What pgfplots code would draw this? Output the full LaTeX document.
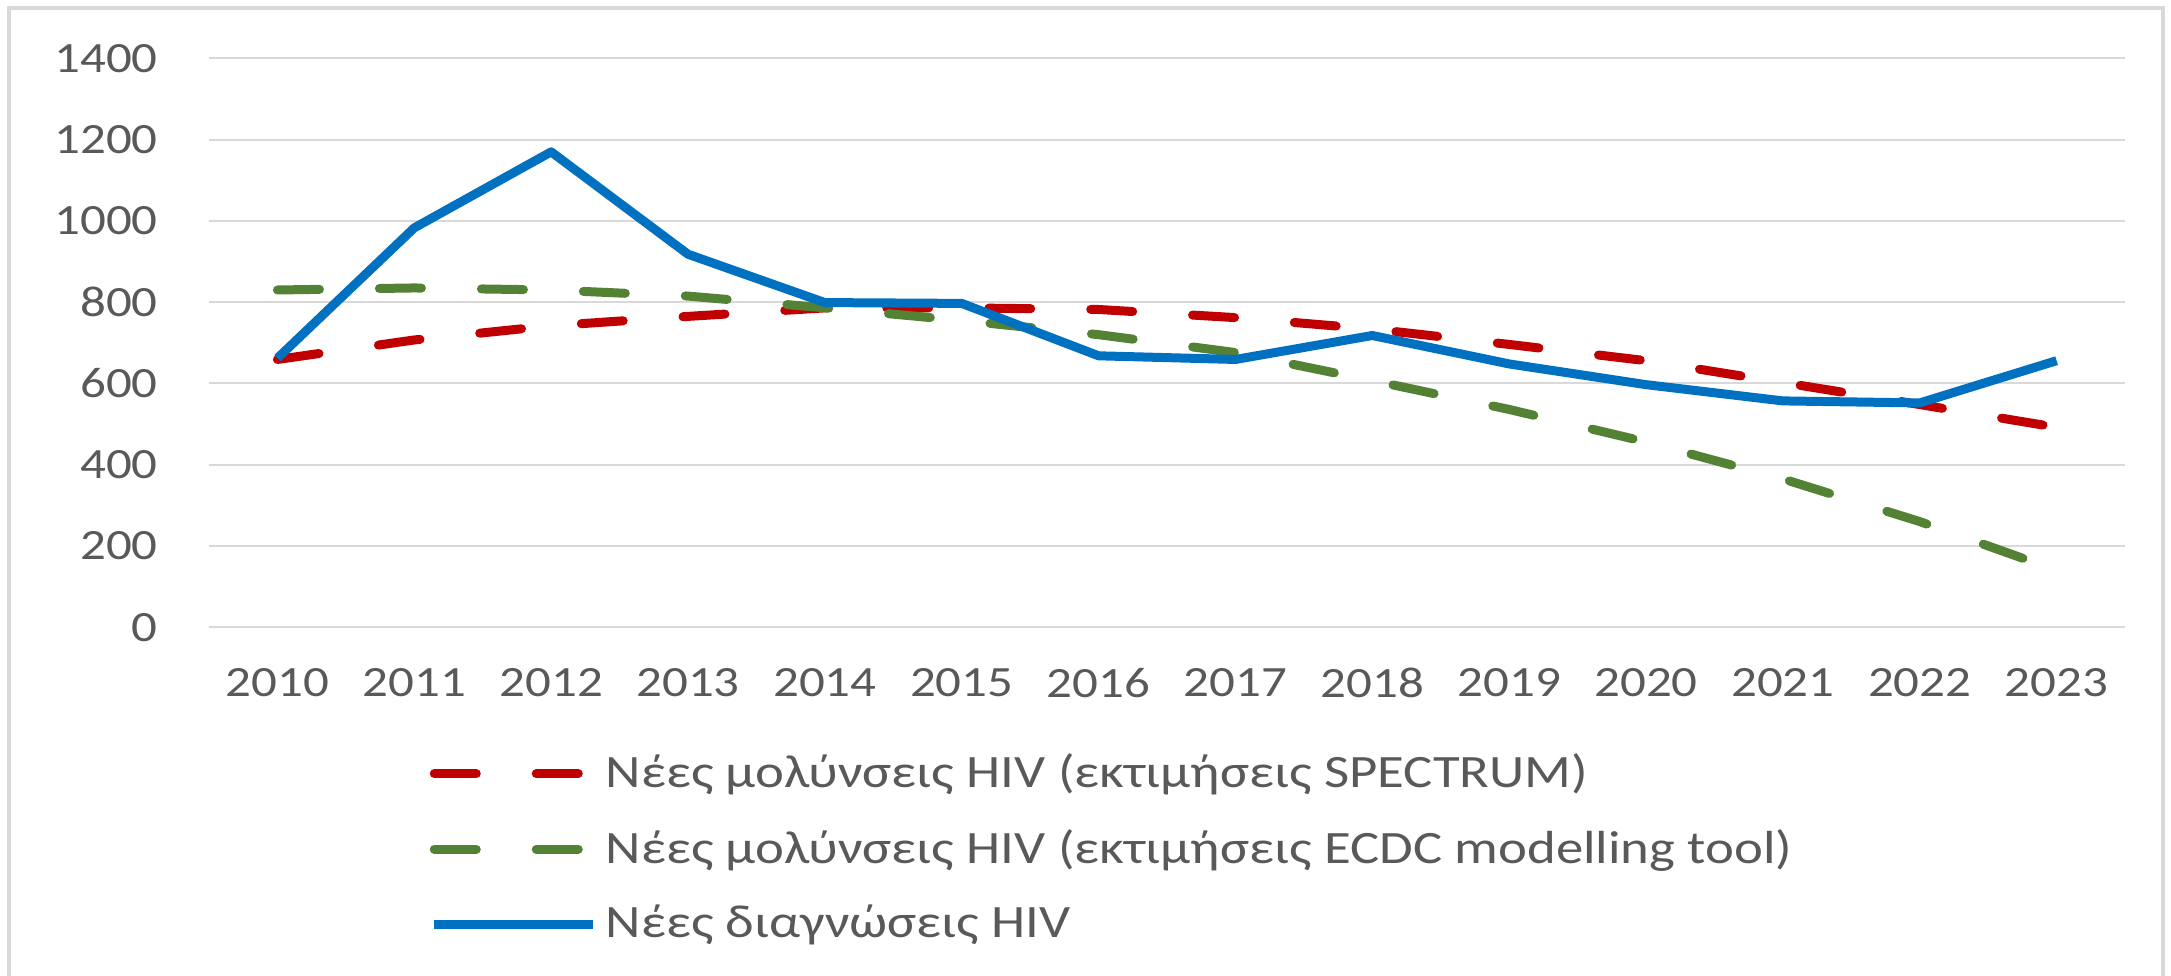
\documentclass[border=0pt]{standalone}
\usepackage{fontspec}
\setmainfont{Carlito}[FakeStretch=1.18]
\usepackage{pgfplots}
\pgfplotsset{compat=1.18}
\definecolor{cred}{HTML}{C00000}
\definecolor{cgreen}{HTML}{548235}
\definecolor{cblue}{HTML}{0070C0}
\definecolor{gridgray}{HTML}{D9D9D9}
\definecolor{txtgray}{HTML}{595959}
\begin{document}
\begin{tikzpicture}[x=1pt,y=1pt]
\useasboundingbox (0,0) rectangle (542.75,243.75);
\draw[color=gridgray, line width=0.9pt] (2.25,-5) -- (2.25,241.75) -- (540.75,241.75) -- (540.75,-5);
\begin{axis}[
  at={(52.25pt,86.95pt)}, anchor=south west,
  scale only axis, width=479pt, height=142.2pt,
  xmin=-0.5, xmax=13.5, ymin=0, ymax=1400,
  xtick={0,...,13},
  xticklabels={2010,2011,2012,2013,2014,2015,2016,2017,2018,2019,2020,2021,2022,2023},
  ytick={0,200,...,1400},
  axis line style={draw=none},
  major tick style={draw=none},
  ymajorgrids, grid style={gridgray, line width=0.5pt},
  /pgf/number format/assume math mode=true,
  /pgf/number format/1000 sep={},
  tick label style={font=\fontsize{10.8}{12}\selectfont, text=txtgray},
  yticklabel style={anchor=east, inner sep=0pt, xshift=-12.6pt},
  xticklabel style={anchor=north, inner sep=0pt, yshift=-10pt},
  legend image code/.code={\draw[#1] (0pt,0pt) -- (39.75pt,0pt);},
  legend style={at={(0.1148,-0.221)}, anchor=north west, draw=none, fill=none,
    inner sep=0pt, row sep=8.9pt,
    font=\fontsize{11.6}{13}\selectfont, text=txtgray,
    nodes={inner xsep=2pt, inner ysep=0pt}},
  legend cell align=left,
]
\addplot[cred, line width=2.25pt, line cap=round, dash pattern=on 10.5pt off 15pt] coordinates {
(0,659) (1,707) (2,742) (3,765) (4,786) (5,786) (6,782) (7,762) (8,734) (9,696) (10,656) (11,602) (12,548) (13,492)};
\addlegendentry{Νέες μολύνσεις HIV (εκτιμήσεις SPECTRUM)}
\addplot[cgreen, line width=2.25pt, line cap=round, dash pattern=on 10.5pt off 15pt] coordinates {
(0,830) (1,835) (2,830) (3,815) (4,786) (5,755) (6,720) (7,676) (8,607) (9,536) (10,456) (11,365) (12,260) (13,140)};
\addlegendentry{Νέες μολύνσεις HIV (εκτιμήσεις ECDC modelling tool)}
\addplot[cblue, line width=2.25pt, line join=round] coordinates {
(0,662) (1,983) (2,1170) (3,918) (4,799) (5,797) (6,668) (7,659) (8,718) (9,648) (10,597) (11,557) (12,552) (13,656)};
\addlegendentry{Νέες διαγνώσεις HIV}
\end{axis}
\end{tikzpicture}
\end{document}
